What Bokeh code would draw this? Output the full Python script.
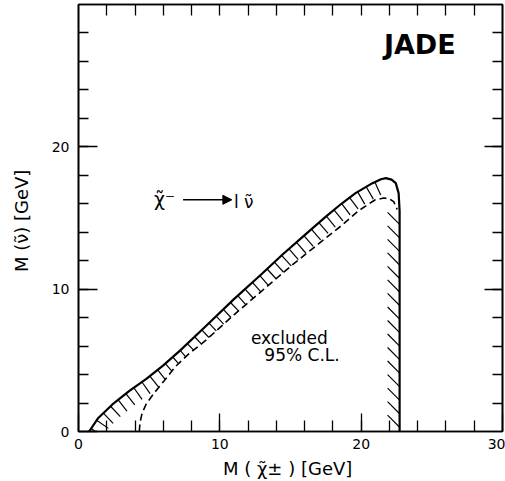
import numpy as np
from bokeh.plotting import figure
from bokeh.models import Range1d, FixedTicker, LinearAxis, Arrow, NormalHead, CustomLabelingPolicy
from bokeh.core.properties import value
from bokeh.embed import file_html
from bokeh.resources import INLINE

# ---- data (GeV) ----
solid_x = [0.75, 1.4, 2.4, 3.6, 4.8, 6.0, 7.2, 9.0, 11.0, 13.0, 14.4, 16.0, 17.5,
           18.6, 19.6, 20.8, 21.4, 21.75, 22.15, 22.45, 22.65, 22.72, 22.72]
solid_y = [0.0, 0.95, 1.9, 2.85, 3.7, 4.65, 5.7, 7.4, 9.3, 11.1, 12.4, 13.8, 15.1,
           16.0, 16.75, 17.45, 17.72, 17.8, 17.7, 17.45, 16.75, 15.5, 0.0]

dashed_x = [4.3, 4.35, 4.5, 4.8, 5.35, 6.05, 6.9, 7.8, 9.0, 11.0, 13.0, 15.0, 17.0,
            18.65, 19.8, 21.0, 21.6, 22.0, 22.3, 22.55]
dashed_y = [0.0, 0.6, 1.3, 1.95, 2.7, 3.55, 4.6, 5.45, 6.4, 8.2, 9.9, 11.6, 13.2,
            14.5, 15.5, 16.28, 16.4, 16.35, 16.15, 15.6]

x_ticks = [0, 10, 20, 30]
y_ticks = [0, 10, 20]
minor = list(range(2, 30, 2))

FONT = "DejaVu Sans"

p = figure(width=505, height=481, x_range=Range1d(0, 30), y_range=Range1d(0, 30),
           output_backend="svg", toolbar_location=None,
           min_border_left=78, min_border_right=3, min_border_top=4, min_border_bottom=49)
p.xgrid.visible = False
p.ygrid.visible = False
p.outline_line_color = "black"
p.outline_line_width = 1.6
p.background_fill_color = "white"

def style_axis(ax, major_in, minor_in):
    ax.axis_line_color = "black"
    ax.axis_line_width = 1.6
    ax.major_tick_in = major_in
    ax.major_tick_out = 0
    ax.minor_tick_in = minor_in
    ax.minor_tick_out = 0
    ax.major_tick_line_width = 1.3
    ax.minor_tick_line_width = 1.3
    ax.major_tick_line_color = "black"
    ax.minor_tick_line_color = "black"
    ax.major_label_text_font = FONT
    ax.major_label_text_color = "black"
    ax.axis_label_text_font = FONT
    ax.axis_label_text_font_style = "normal"
    ax.axis_label_text_color = "black"

xa = p.xaxis[0]
xa.ticker = FixedTicker(ticks=x_ticks, minor_ticks=minor)
style_axis(xa, 18, 11)
xa.major_label_text_font_size = "14px"
xa.major_label_standoff = 7
xa.axis_label = "M ( χ̃± )  [GeV]"
xa.axis_label_text_font_size = "18px"
xa.axis_label_standoff = 6

ya = p.yaxis[0]
ya.ticker = FixedTicker(ticks=y_ticks, minor_ticks=minor)
style_axis(ya, 19, 10)
ya.major_label_text_font_size = "14px"
ya.major_label_standoff = 9
ya.axis_label = "M (ν̃)  [GeV]"
ya.axis_label_text_font_size = "18px"
ya.axis_label_standoff = 17

NO_LABELS = "for (const i of indices) { indices.unset(i) }\nreturn indices"

ra = LinearAxis(ticker=FixedTicker(ticks=[10, 20], minor_ticks=minor))
style_axis(ra, 18, 10)
ra.major_label_policy = CustomLabelingPolicy(code=NO_LABELS)
ra.major_label_text_font_size = "0px"
ra.major_label_standoff = 0
ra.axis_label_standoff = 0
p.add_layout(ra, "right")

ta = LinearAxis(ticker=FixedTicker(ticks=minor, minor_ticks=[]))
style_axis(ta, 11, 0)
ta.major_label_policy = CustomLabelingPolicy(code=NO_LABELS)
ta.major_label_text_font_size = "0px"
ta.major_label_standoff = 0
ta.axis_label_standoff = 0
p.add_layout(ta, "above")

# ---- hatching derived from the solid boundary (ends on the dashed line) ----
sx = np.array(solid_x)
sy = np.array(solid_y)
dxa = np.array(dashed_x)
dya = np.array(dashed_y)
peak = int(np.argmax(sy))
dx = np.diff(sx[:peak + 1])
dy = np.diff(sy[:peak + 1])
d = np.hypot(dx, dy)
s = np.concatenate([[0.0], np.cumsum(d)])
ss = np.arange(0.25, s[-1] - 0.3, 0.7)
px = np.interp(ss, s, sx[:peak + 1])
py = np.interp(ss, s, sy[:peak + 1])
idx = np.clip(np.searchsorted(s, ss, side="right") - 1, 0, len(d) - 1)
tx = dx[idx] / d[idx]
ty = dy[idx] / d[idx]
L_MAX = 1.0


def ray_len(x0, y0, nx, ny):
    best = L_MAX
    for k in range(len(dxa) - 1):
        ax_, ay_ = dxa[k], dya[k]
        bx, by = dxa[k + 1] - ax_, dya[k + 1] - ay_
        det = nx * (-by) - ny * (-bx)
        if abs(det) < 1e-9:
            continue
        rx, ry = ax_ - x0, ay_ - y0
        t = (rx * (-by) - ry * (-bx)) / det
        u = (nx * ry - ny * rx) / det
        if 0 <= u <= 1 and 0 < t < best:
            best = t
    return best


hx0, hy0, hx1, hy1 = [], [], [], []
for x0, y0, a, b in zip(px, py, tx, ty):
    nx, ny = b, -a
    t = ray_len(x0, y0, nx, ny)
    hx0.append(x0)
    hy0.append(y0)
    hx1.append(x0 + t * nx)
    hy1.append(y0 + t * ny)

xv = sx[-1]
vy = np.arange(0.3, sy[-2] - 0.6, 0.95)
hx0 += [xv] * len(vy)
hy0 += list(vy)
hx1 += [xv - 0.85] * len(vy)
hy1 += list(vy + 0.85)

p.segment(hx0, hy0, hx1, hy1, line_color="black", line_width=1.2)
p.line(dashed_x, dashed_y, line_color="black", line_width=1.6, line_dash="7 4")
p.line(solid_x, solid_y, line_color="black", line_width=2.2)

# ---- texts ----
p.text([24.15], [27.2], text=["JADE"], text_font=value(FONT), text_font_size="27px",
       text_font_style="bold", text_align="center", text_baseline="middle", text_color="black")
p.text([5.35], [16.35], text=["χ̃⁻"], text_font=value(FONT), text_font_size="19px",
       text_align="left", text_baseline="middle", text_color="black")
p.add_layout(Arrow(end=NormalHead(size=9, fill_color="black", line_color="black"),
                   x_start=7.4, y_start=16.28, x_end=10.85, y_end=16.28,
                   line_color="black", line_width=1.5))
p.text([11.0], [16.1], text=["l ν̃"], text_font=value(FONT), text_font_size="17px",
       text_align="left", text_baseline="middle", text_color="black")
p.text([12.2], [6.55], text=["excluded"], text_font=value(FONT), text_font_size="17px",
       text_align="left", text_baseline="middle", text_color="black")
p.text([13.15], [5.4], text=["95% C.L."], text_font=value(FONT), text_font_size="17px",
       text_align="left", text_baseline="middle", text_color="black")

open("out.html", "w").write(file_html(p, INLINE))
